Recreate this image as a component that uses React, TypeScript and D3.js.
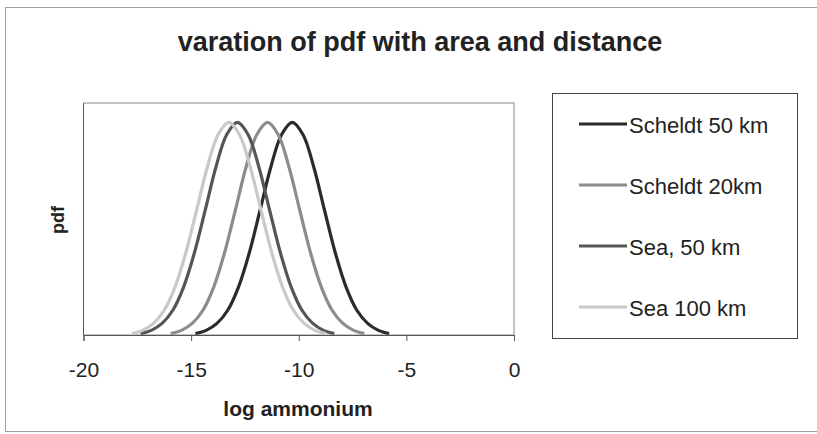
import React, { useEffect, useRef } from "react";
import * as d3 from "d3";

// values (log ammonium vs pdf)
const seriesNames = ["Scheldt 50 km", "Scheldt 20km", "Sea, 50 km", "Sea 100 km"];
const seriesColors = ["#2b2b2b", "#8c8c8c", "#555555", "#c9c9c9"];

const scheldt50X = [-14.8, -14.3, -13.8, -13.3, -12.8, -12.3, -11.8, -11.3, -10.8, -10.3, -9.8, -9.3, -8.8, -8.3, -7.8, -7.3, -6.8, -6.3, -5.8];
const scheldt50Y = [0.002, 0.006, 0.015, 0.032, 0.062, 0.106, 0.161, 0.217, 0.259, 0.275, 0.259, 0.217, 0.161, 0.106, 0.062, 0.032, 0.015, 0.006, 0.002];

const scheldt20X = [-15.95, -15.45, -14.95, -14.45, -13.95, -13.45, -12.95, -12.45, -11.95, -11.45, -10.95, -10.45, -9.95, -9.45, -8.95, -8.45, -7.95, -7.45, -6.95];
const scheldt20Y = [0.002, 0.006, 0.015, 0.032, 0.062, 0.106, 0.161, 0.217, 0.259, 0.275, 0.259, 0.217, 0.161, 0.106, 0.062, 0.032, 0.015, 0.006, 0.002];

const sea50X = [-17.35, -16.85, -16.35, -15.85, -15.35, -14.85, -14.35, -13.85, -13.35, -12.85, -12.35, -11.85, -11.35, -10.85, -10.35, -9.85, -9.35, -8.85, -8.35];
const sea50Y = [0.002, 0.006, 0.015, 0.032, 0.062, 0.106, 0.161, 0.217, 0.259, 0.275, 0.259, 0.217, 0.161, 0.106, 0.062, 0.032, 0.015, 0.006, 0.002];

const sea100X = [-17.75, -17.25, -16.75, -16.25, -15.75, -15.25, -14.75, -14.25, -13.75, -13.25, -12.75, -12.25, -11.75, -11.25, -10.75, -10.25, -9.75, -9.25, -8.75];
const sea100Y = [0.002, 0.006, 0.015, 0.032, 0.062, 0.106, 0.161, 0.217, 0.259, 0.275, 0.259, 0.217, 0.161, 0.106, 0.062, 0.032, 0.015, 0.006, 0.002];

const xTicks = [-20, -15, -10, -5, 0];

const FONT = "'Liberation Sans', Arial, sans-serif";

export default function App() {
  const svgRef = useRef(null);

  useEffect(() => {
    const width = 817;
    const height = 434;
    const plot = { left: 83.5, right: 514, top: 103, bottom: 335 };

    const svg = d3.select(svgRef.current).attr("width", width).attr("height", height);
    svg.selectAll("*").remove();

    svg.append("rect").attr("width", width).attr("height", height).attr("fill", "#fff");

    // chart border
    svg
      .append("rect")
      .attr("x", 5.5)
      .attr("y", 7.5)
      .attr("width", 840)
      .attr("height", 424)
      .attr("fill", "none")
      .attr("stroke", "#a0a0a0");

    const x = d3.scaleLinear().domain([-20, 0]).range([plot.left, plot.right]);
    const y = d3.scaleLinear().domain([0, 0.3]).range([plot.bottom, plot.top]);

    // plot area frame
    svg
      .append("rect")
      .attr("x", plot.left)
      .attr("y", plot.top)
      .attr("width", plot.right - plot.left)
      .attr("height", plot.bottom - plot.top)
      .attr("fill", "none")
      .attr("stroke", "#8a8a8a");

    svg
      .append("line")
      .attr("x1", plot.left)
      .attr("x2", plot.left)
      .attr("y1", plot.top)
      .attr("y2", plot.bottom)
      .attr("stroke", "#555");

    const xAxis = d3
      .axisBottom(x)
      .tickValues(xTicks)
      .tickSize(6)
      .tickPadding(21)
      .tickFormat((d) => String(d));
    const gx = svg.append("g").attr("transform", `translate(0, ${plot.bottom})`).call(xAxis);
    gx.select(".domain").attr("stroke", "#555");
    gx.selectAll(".tick line").attr("stroke", "#555");
    gx.selectAll(".tick text")
      .attr("fill", "#222")
      .style("font-family", FONT)
      .style("font-size", "21px");

    const series = [
      { xs: scheldt50X, ys: scheldt50Y },
      { xs: scheldt20X, ys: scheldt20Y },
      { xs: sea50X, ys: sea50Y },
      { xs: sea100X, ys: sea100Y },
    ];

    const line = d3
      .line<[number, number]>()
      .x((d) => x(d[0]))
      .y((d) => y(d[1]))
      .curve(d3.curveCatmullRom);

    series.forEach((s, i) => {
      const pts = s.xs.map((v, j) => [v, s.ys[j]] as [number, number]);
      svg
        .append("path")
        .attr("d", line(pts))
        .attr("fill", "none")
        .attr("stroke", seriesColors[i])
        .attr("stroke-width", 3.2)
        .attr("stroke-linejoin", "round");
    });

    // titles
    svg
      .append("text")
      .attr("x", 420)
      .attr("y", 51)
      .attr("text-anchor", "middle")
      .attr("fill", "#222")
      .style("font-family", FONT)
      .style("font-weight", "bold")
      .style("font-size", "27px")
      .text("varation of pdf with area and distance");

    svg
      .append("text")
      .attr("x", 298)
      .attr("y", 416)
      .attr("text-anchor", "middle")
      .attr("fill", "#222")
      .style("font-family", FONT)
      .style("font-weight", "bold")
      .style("font-size", "21px")
      .text("log ammonium");

    svg
      .append("text")
      .attr("transform", "translate(58, 220) rotate(-90)")
      .attr("text-anchor", "middle")
      .attr("dominant-baseline", "central")
      .attr("fill", "#222")
      .style("font-family", FONT)
      .style("font-weight", "bold")
      .style("font-size", "18px")
      .text("pdf");

    // legend
    svg
      .append("rect")
      .attr("x", 552.5)
      .attr("y", 93.5)
      .attr("width", 245)
      .attr("height", 245)
      .attr("fill", "#fff")
      .attr("stroke", "#444");

    const legendY = d3.scalePoint().domain(seriesNames).range([124, 307]);
    const lg = svg
      .selectAll("g.legend-item")
      .data(seriesNames)
      .enter()
      .append("g")
      .attr("class", "legend-item")
      .attr("transform", (d) => `translate(0, ${legendY(d)})`);

    lg.append("line")
      .attr("x1", 579)
      .attr("x2", 627)
      .attr("stroke", (d, i) => seriesColors[i])
      .attr("stroke-width", 3.2);

    lg.append("text")
      .attr("x", 629)
      .attr("y", 1)
      .attr("dominant-baseline", "central")
      .attr("fill", "#222")
      .style("font-family", FONT)
      .style("font-size", "22px")
      .text((d) => d);
  }, []);

  return (
    <div style={{ position: "absolute", left: 0, top: 0 }}>
      <svg ref={svgRef} style={{ display: "block" }} />
    </div>
  );
}
